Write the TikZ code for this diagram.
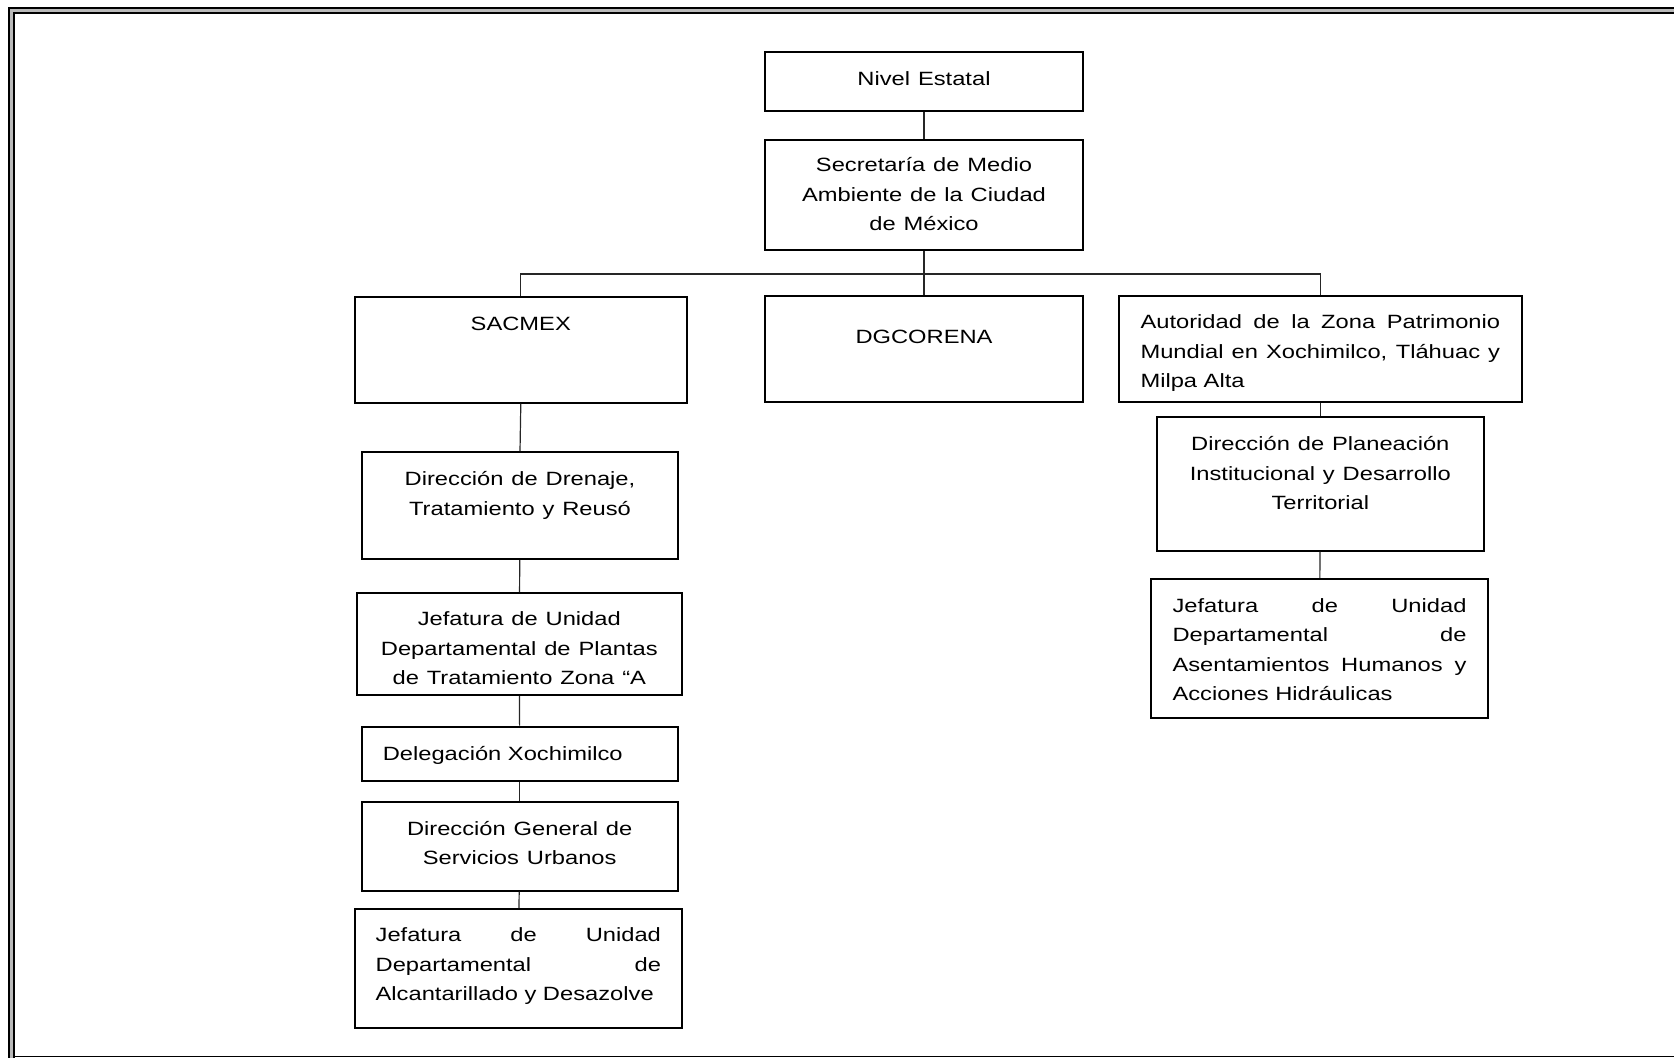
\documentclass[tikz,border=0pt]{standalone}
\usepackage{fontspec}
\setmainfont{Liberation Sans}
\begin{document}
\begin{tikzpicture}[x=0.5pt,y=-0.5pt,
                        box/.style={shape=rectangle,draw,line width=1pt,inner sep=0pt},
                        tag/.style={anchor=base,inner sep=0pt,align=center,xscale=1.235,transform shape,
                                    font=\fontsize{9.6pt}{14.75pt}\selectfont},
                        link/.style={line width=0.6pt,color=black!85},
                        frame/.style={line width=1pt,double=gray!55,double distance=1.5pt}]
                        \useasboundingbox (0,0) rectangle (1674,1058);
                        \draw[frame] (1700,11) -- (11.5,11) -- (11.5,1080);
                        \draw[line width=0.8pt] (15,1056.5) -- (1700,1056.5);
                        \node[box,minimum width=159pt,minimum height=29.6pt] at (924,81.4) (nivel) {};
                        \node[box,minimum width=159pt,minimum height=55pt] at (924,195) (secretaria) {};
                        \node[box,minimum width=165.9pt,minimum height=53pt] at (520.8,349.7) (sacmex) {};
                        \node[box,minimum width=159pt,minimum height=53pt] at (924,349) (dgcorena) {};
                        \node[box,minimum width=201.4pt,minimum height=53pt] at (1320.3,349) (autoridad) {};
                        \node[box,minimum width=158pt,minimum height=53.5pt] at (520,505.7) (drenaje) {};
                        \node[box,minimum width=162.4pt,minimum height=51pt] at (519.3,644) (plantas) {};
                        \node[box,minimum width=158pt,minimum height=27.2pt] at (519.7,753.8) (delegacion) {};
                        \node[box,minimum width=158pt,minimum height=44.5pt] at (519.7,846.2) (dirgeneral) {};
                        \node[box,minimum width=163.4pt,minimum height=59.5pt] at (518.3,968.5) (alcantarillado) {};
                        \node[box,minimum width=163.7pt,minimum height=67pt] at (1320.3,483.7) (planeacion) {};
                        \node[box,minimum width=168.5pt,minimum height=69.5pt] at (1319.5,648.5) (asentamientos) {};
                        \node[tag,text width=120pt] at ([yshift=-17.2pt]nivel.north) (nivel-t) {Nivel Estatal};
                        \node[tag,text width=120pt] at ([yshift=-16.4pt]secretaria.north) (secretaria-t)
                            {Secretaría de Medio\\Ambiente de la Ciudad\\de México};
                        \node[tag,text width=126pt] at ([yshift=-17.2pt]sacmex.north) (sacmex-t) {SACMEX};
                        \node[tag,text width=120pt] at ([yshift=-24.5pt]dgcorena.north) (dgcorena-t) {DGCORENA};
                        \node[tag,align=justify,text width=145.6pt] at ([yshift=-17pt]autoridad.north) (autoridad-t)
                            {Autoridad de la Zona Patrimonio\linebreak Mundial en Xochimilco, Tláhuac y\linebreak Milpa Alta};
                        \node[tag,text width=120pt] at ([yshift=-17.3pt]drenaje.north) (drenaje-t)
                            {Dirección de Drenaje,\\Tratamiento y Reusó};
                        \node[tag,text width=123pt] at ([yshift=-16.8pt]plantas.north) (plantas-t)
                            {Jefatura de Unidad\\Departamental de Plantas\\de Tratamiento Zona “A};
                        \node[tag,anchor=base west] at ([xshift=10.8pt,yshift=-17.2pt]delegacion.north west) (delegacion-t)
                            {Delegación Xochimilco};
                        \node[tag,text width=120pt] at ([yshift=-17.2pt]dirgeneral.north) (dirgeneral-t)
                            {Dirección General de\\Servicios Urbanos};
                        \node[tag,align=justify,text width=115.5pt] at ([yshift=-16.8pt]alcantarillado.north) (alcantarillado-t)
                            {Jefatura de Unidad\linebreak Departamental de\linebreak Alcantarillado y Desazolve};
                        \node[tag,text width=121pt] at ([yshift=-17.5pt]planeacion.north) (planeacion-t)
                            {Dirección de Planeación\\Institucional y Desarrollo\\Territorial};
                        \node[tag,align=justify,text width=119pt] at ([yshift=-17.2pt]asentamientos.north) (asentamientos-t)
                            {Jefatura de Unidad\linebreak Departamental de\linebreak Asentamientos Humanos y\linebreak Acciones Hidráulicas};
                        \coordinate (bus) at (924,274);
                        \draw[link] (nivel) -- (secretaria);
                        \draw[link] (secretaria) -- (dgcorena);
                        \draw[link] (sacmex.north) |- (bus) -| (autoridad.north);
                        \draw[link] (sacmex.south) -- (drenaje.north);
                        \draw[link] (drenaje) -- (plantas);
                        \draw[link] (plantas) -- (delegacion);
                        \draw[link] (delegacion) -- (dirgeneral);
                        \draw[link] (dirgeneral) -- (alcantarillado);
                        \draw[link] (autoridad) -- (planeacion);
                        \draw[link] (planeacion) -- (asentamientos);
                \end{tikzpicture}
\end{document}
